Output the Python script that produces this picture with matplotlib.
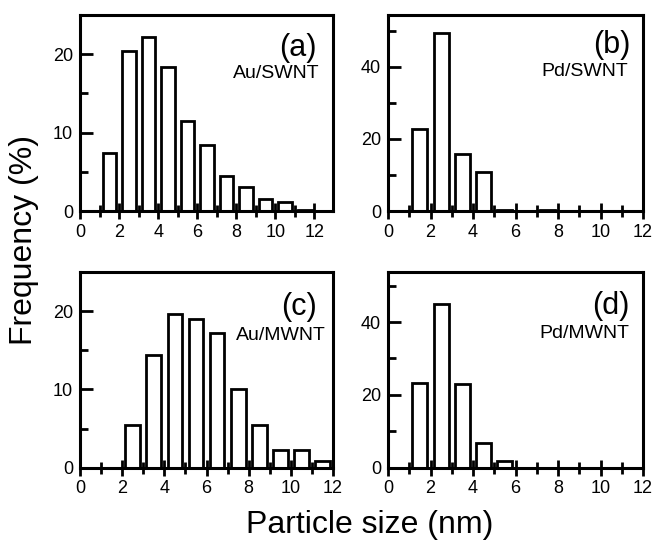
import matplotlib
matplotlib.use('Agg')
import matplotlib.pyplot as plt
from matplotlib.ticker import MultipleLocator

plt.rcParams['font.family'] = ['Liberation Sans', 'DejaVu Sans']

# bin centres (nm) and frequencies (%)
au_swnt_x = [0.5, 1.5, 2.5, 3.5, 4.5, 5.5, 6.5, 7.5, 8.5, 9.5, 10.5, 11.5]
au_swnt_y = [0.0, 7.4, 20.4, 22.2, 18.4, 11.5, 8.4, 4.5, 3.0, 1.5, 1.2, 0.1]

pd_swnt_x = [0.5, 1.5, 2.5, 3.5, 4.5, 5.5, 7.5]
pd_swnt_y = [0.0, 22.7, 49.3, 15.8, 10.9, 0.3, 0.3]

au_mwnt_x = [0.5, 1.5, 2.5, 3.5, 4.5, 5.5, 6.5, 7.5, 8.5, 9.5, 10.5, 11.5]
au_mwnt_y = [0.0, 0.0, 5.4, 14.4, 19.6, 19.0, 17.2, 10.1, 5.4, 2.3, 2.3, 0.9]

pd_mwnt_x = [0.5, 1.5, 2.5, 3.5, 4.5, 5.5, 6.5]
pd_mwnt_y = [0.0, 23.2, 45.0, 22.9, 6.8, 1.8, 0.0]

panel_tags = ['(a)', '(b)', '(c)', '(d)']
panel_names = ['Au/SWNT', 'Pd/SWNT', 'Au/MWNT', 'Pd/MWNT']

BAR_WIDTH = 0.7
LINE_WIDTH = 2.0


def draw_panel(ax, x, y, xmax, ymax, ymajor, tag, name, tag_pos, name_pos):
    ax.bar(x, y, width=BAR_WIDTH, facecolor='white', edgecolor='black', linewidth=LINE_WIDTH)
    ax.set_xlim(0, xmax)
    ax.set_ylim(0, ymax)
    ax.set_xticks(range(0, 13, 2))
    ax.xaxis.set_minor_locator(MultipleLocator(1))
    ax.yaxis.set_major_locator(MultipleLocator(ymajor))
    ax.yaxis.set_minor_locator(MultipleLocator(ymajor / 2))
    ax.tick_params(axis='x', which='major', direction='inout', length=12, width=2, labelsize=13, pad=3)
    ax.tick_params(axis='x', which='minor', direction='inout', length=8, width=2)
    ax.tick_params(axis='y', which='major', direction='in', length=9, width=2, labelsize=13, pad=5)
    ax.tick_params(axis='y', which='minor', direction='in', length=6, width=2)
    ax.tick_params(top=False, right=False, which='both')
    for spine in ax.spines.values():
        spine.set_linewidth(2.2)
    ax.text(tag_pos[0], tag_pos[1], tag, transform=ax.transAxes, ha='right', va='top', fontsize=22)
    ax.text(name_pos[0], name_pos[1], name, transform=ax.transAxes, ha='right', va='top', fontsize=14)


def main() -> None:
    fig = plt.figure(figsize=(6.56, 5.42), dpi=100)
    ax_a = fig.add_axes([0.122, 0.6107, 0.3857, 0.3616])
    ax_b = fig.add_axes([0.5915, 0.6107, 0.3887, 0.3616])
    ax_c = fig.add_axes([0.122, 0.137, 0.3857, 0.361])
    ax_d = fig.add_axes([0.5915, 0.137, 0.3887, 0.361])

    draw_panel(ax_a, au_swnt_x, au_swnt_y, 12.95, 25, 10, panel_tags[0], panel_names[0],
               (0.935, 0.91), (0.945, 0.745))
    draw_panel(ax_b, pd_swnt_x, pd_swnt_y, 12, 54.3, 20, panel_tags[1], panel_names[1],
               (0.95, 0.925), (0.942, 0.755))
    draw_panel(ax_c, au_mwnt_x, au_mwnt_y, 12, 25, 10, panel_tags[2], panel_names[2],
               (0.935, 0.90), (0.972, 0.72))
    draw_panel(ax_d, pd_mwnt_x, pd_mwnt_y, 12, 53.7, 20, panel_tags[3], panel_names[3],
               (0.948, 0.905), (0.948, 0.73))

    fig.text(0.036, 0.557, 'Frequency (%)', rotation=90, ha='center', va='center', fontsize=23)
    fig.text(0.564, 0.031, 'Particle size (nm)', ha='center', va='center', fontsize=23)

    fig.savefig('out.png', dpi=100)
    plt.close(fig)


if __name__ == '__main__':
    main()
